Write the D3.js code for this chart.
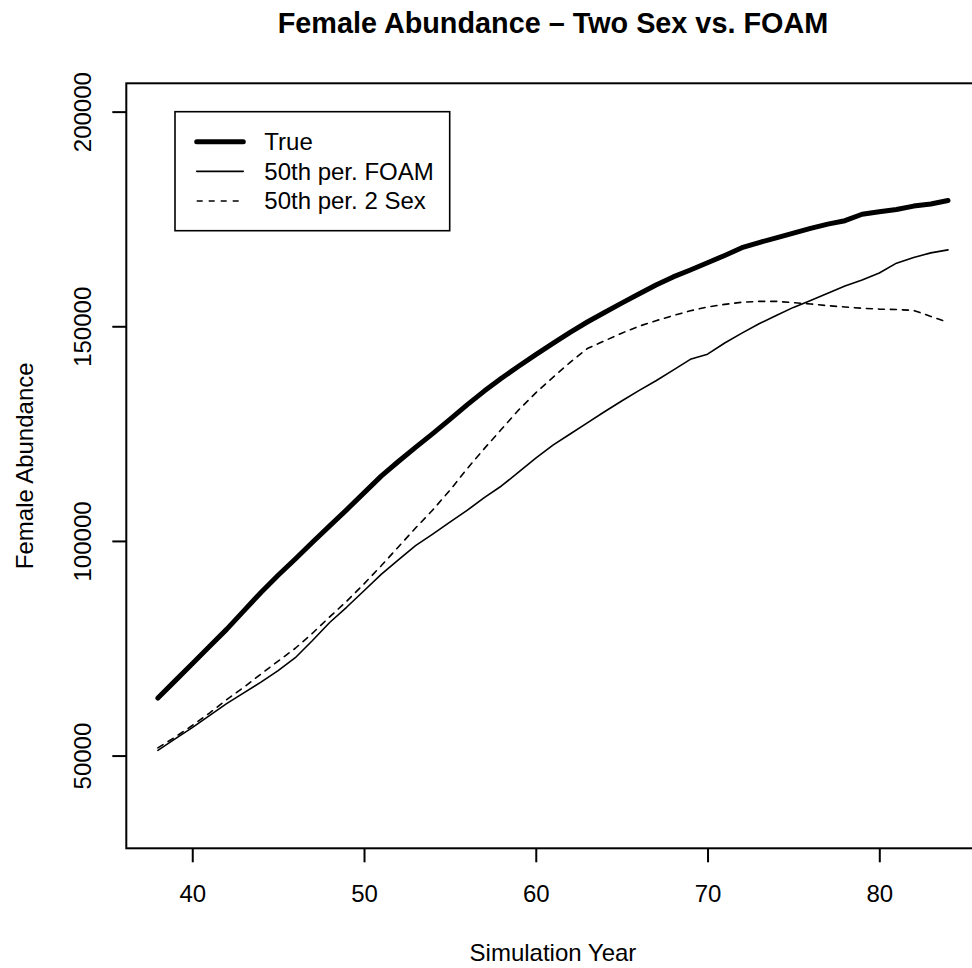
<!DOCTYPE html>
<html>
<head>
<meta charset="utf-8">
<script src="https://cdn.jsdelivr.net/npm/d3@7"></script>
<style>
  body { margin: 0; background: #fff; }
  svg text { font-family: "Liberation Sans", Arial, Helvetica, sans-serif; fill: #000; }
</style>
</head>
<body>
<div id="chart"></div>
<script>
// Simulation years 38..84
const years = d3.range(38, 85);

// True female abundance
const trueVals = [
  63400, 67400, 71400, 75400, 79400, 83700, 88000, 92000, 95800, 99700,
  103500, 107300, 111200, 115100, 118500, 121800, 125000, 128300, 131700, 134900,
  137900, 140700, 143400, 146000, 148600, 151000, 153200, 155400, 157500, 159600,
  161500, 163100, 164800, 166500, 168300, 169500, 170600, 171700, 172800, 173800,
  174600, 176100, 176700, 177200, 178000, 178500, 179300
];

// 50th percentile FOAM
const foamVals = [
  51200, 53900, 56500, 59300, 62100, 64600, 67100, 69800, 72800, 76800,
  81000, 84600, 88400, 92200, 95600, 98900, 101600, 104400, 107100, 110100,
  112800, 116000, 119300, 122300, 124900, 127500, 130100, 132600, 135000, 137300,
  139800, 142300, 143500, 146100, 148400, 150600, 152500, 154400, 156000, 157700,
  159400, 160800, 162400, 164700, 166000, 167100, 167800
];

// 50th percentile two sex model
const twoSexVals = [
  51800, 54300, 57000, 59900, 63000, 65900, 69000, 72000, 75000, 78500,
  82300, 86000, 90000, 94200, 98600, 103000, 107200, 111800, 116800, 121500,
  126000, 130500, 134500, 138100, 141600, 144800, 146600, 148400, 150000, 151300,
  152500, 153600, 154500, 155100, 155600, 155800, 155800, 155500, 155200, 154800,
  154500, 154200, 154000, 153900, 153700, 152300, 150900
];

const xTicks = [40, 50, 60, 70, 80];
const yTicks = [50000, 100000, 150000, 200000];
const yLimits = [35000, 200000];

const legendLabels = ["True", "50th per. FOAM", "50th per. 2 Sex"];

class AbundanceChart {
  constructor(_config) {
    this.config = {
      parentElement: _config.parentElement,
      width: 972,
      height: 968,
      left: 126.3,
      right: 979.6,   // plot region runs past the window edge
      top: 83.3,
      bottom: 848.3
    };
    this.initVis();
  }

  initVis() {
    let vis = this;
    const c = vis.config;

    vis.svg = d3.select(c.parentElement).append('svg')
        .attr('width', c.width)
        .attr('height', c.height);

    vis.svg.append('rect')
        .attr('width', c.width)
        .attr('height', c.height)
        .attr('fill', '#fff');

    // R style 4% padding on both axes
    const xExt = d3.extent(years);
    const xPad = (xExt[1] - xExt[0]) * 0.04;
    const yPad = (yLimits[1] - yLimits[0]) * 0.04;

    vis.x = d3.scaleLinear()
        .domain([xExt[0] - xPad, xExt[1] + xPad])
        .range([c.left, c.right]);

    vis.y = d3.scaleLinear()
        .domain([yLimits[0] - yPad, yLimits[1] + yPad])
        .range([c.bottom, c.top]);

    vis.series = [
      { label: legendLabels[0], values: trueVals, width: 5, dash: null },
      { label: legendLabels[1], values: foamVals, width: 1.6, dash: null },
      { label: legendLabels[2], values: twoSexVals, width: 1.6, dash: '6,6' }
    ];

    vis.renderVis();
  }

  renderVis() {
    let vis = this;
    const c = vis.config;

    // Lines
    const line = d3.line()
        .x((d, i) => vis.x(years[i]))
        .y(d => vis.y(d));

    vis.svg.selectAll('.series')
        .data(vis.series)
        .join('path')
          .attr('class', 'series')
          .attr('d', d => line(d.values))
          .attr('fill', 'none')
          .attr('stroke', '#000')
          .attr('stroke-width', d => d.width)
          .attr('stroke-linecap', 'round')
          .attr('stroke-linejoin', 'round')
          .attr('stroke-dasharray', d => d.dash);

    // Box around plot region
    vis.svg.append('rect')
        .attr('x', c.left)
        .attr('y', c.top)
        .attr('width', c.right - c.left)
        .attr('height', c.bottom - c.top)
        .attr('fill', 'none')
        .attr('stroke', '#000')
        .attr('stroke-width', 2);

    // X axis
    const xAxis = vis.svg.append('g')
        .attr('transform', `translate(0,${c.bottom})`)
        .call(d3.axisBottom(vis.x).tickValues(xTicks).tickSize(14).tickSizeOuter(0));
    xAxis.select('.domain').remove();
    xAxis.selectAll('line').attr('stroke-width', 2);
    xAxis.selectAll('text')
        .attr('y', 54)
        .attr('dy', 0)
        .attr('font-size', 24);

    // Y axis, labels turned parallel to the axis
    const yAxis = vis.svg.append('g')
        .attr('transform', `translate(${c.left},0)`)
        .call(d3.axisLeft(vis.y).tickValues(yTicks).tickSize(14).tickSizeOuter(0).tickFormat(d3.format('d')));
    yAxis.select('.domain').remove();
    yAxis.selectAll('line').attr('stroke-width', 2);
    yAxis.selectAll('text')
        .attr('x', 0)
        .attr('y', 0)
        .attr('dy', 0)
        .attr('text-anchor', 'middle')
        .attr('transform', `translate(${91 - c.left},0) rotate(-90)`)
        .attr('font-size', 24);

    const midX = (c.left + c.right) / 2;
    const midY = (c.top + c.bottom) / 2;

    // Titles
    vis.svg.append('text')
        .attr('x', midX)
        .attr('y', 33)
        .attr('text-anchor', 'middle')
        .attr('font-size', 28.8)
        .attr('font-weight', 'bold')
        .text('Female Abundance \u2013 Two Sex vs. FOAM');

    vis.svg.append('text')
        .attr('x', midX)
        .attr('y', 961)
        .attr('text-anchor', 'middle')
        .attr('font-size', 24)
        .text('Simulation Year');

    vis.svg.append('text')
        .attr('transform', `translate(33,${midY}) rotate(-90)`)
        .attr('text-anchor', 'middle')
        .attr('font-size', 24)
        .text('Female Abundance');

    // Legend
    const legend = vis.svg.append('g');
    legend.append('rect')
        .attr('x', 175)
        .attr('y', 111.7)
        .attr('width', 274.7)
        .attr('height', 119)
        .attr('fill', '#fff')
        .attr('stroke', '#000')
        .attr('stroke-width', 1.6);

    const rowY = d3.scalePoint()
        .domain(legendLabels)
        .range([141.7, 201]);

    const rows = legend.selectAll('.legend-row')
        .data(vis.series)
        .join('g')
          .attr('class', 'legend-row')
          .attr('transform', d => `translate(0,${rowY(d.label)})`);

    rows.append('line')
        .attr('x1', 196.7)
        .attr('x2', 243.3)
        .attr('stroke', '#000')
        .attr('stroke-width', d => d.width)
        .attr('stroke-linecap', d => d.dash ? 'butt' : 'round')
        .attr('stroke-dasharray', d => d.dash);

    rows.append('text')
        .attr('x', 264.3)
        .attr('dy', '0.35em')
        .attr('font-size', 24)
        .text(d => d.label);
  }
}

new AbundanceChart({ parentElement: '#chart' });
</script>
</body>
</html>
